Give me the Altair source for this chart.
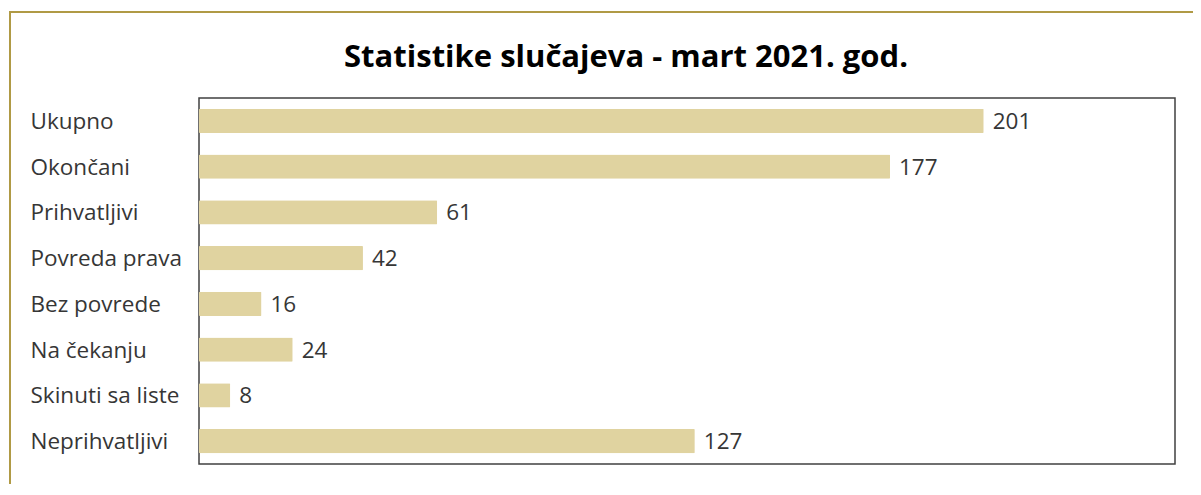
import altair as alt
import pandas as pd

categories = ["Ukupno", "Okončani", "Prihvatljivi", "Povreda prava", "Bez povrede",
              "Na čekanju", "Skinuti sa liste", "Neprihvatljivi"]
values = [201, 177, 61, 42, 16, 24, 8, 127]
title_text = "Statistike slučajeva - mart 2021. god."

df = pd.DataFrame({"kategorija": categories, "broj": values})
title_df = pd.DataFrame({"naslov": [title_text]})

W, H = 976, 366
FONT = "Open Sans"

x_scale = alt.Scale(domain=[0, 250], nice=False)
y_scale = alt.Scale(paddingInner=0.47, paddingOuter=0.235)

y_enc = alt.Y("kategorija:N", sort=categories, title=None, scale=y_scale,
              axis=alt.Axis(labelAlign="left", labelPadding=169, tickSize=0, ticks=False,
                            domain=False, labelFontSize=22.5, labelColor="#363636",
                            labelFont=FONT, labelOffset=1))
x_enc = alt.X("broj:Q", scale=x_scale, axis=None)

bars = alt.Chart(df).mark_bar(color="#E0D3A0", cornerRadius=1).encode(y=y_enc, x=x_enc)
labels = alt.Chart(df).mark_text(align="left", baseline="middle", dx=9, dy=1, fontSize=22.5,
                                 color="#363636", font=FONT).encode(
    y=alt.Y("kategorija:N", sort=categories, scale=y_scale),
    x=alt.X("broj:Q", scale=x_scale), text="broj:Q")

frame = alt.Chart(title_df).mark_rect(fill=None, stroke="#B09A45", strokeWidth=2, clip=False).encode(
    x=alt.value(-189), y=alt.value(-86), x2=alt.value(W + 60), y2=alt.value(H + 60))

title = alt.Chart(title_df).mark_text(font=FONT, fontSize=31, fontWeight="bold",
                                      color="#000000", align="center", baseline="alphabetic",
                                      clip=False).encode(
    text="naslov:N", x=alt.value(427), y=alt.value(-31))

chart = alt.layer(frame, bars, labels, title).properties(
    width=W, height=H,
    autosize=alt.AutoSizeParams(type="none"),
    padding={"left": 191, "top": 90, "right": 18, "bottom": 20},
).configure_view(stroke="#404040", strokeWidth=1.5)

chart.save("out.html", embed_options={"renderer": "svg", "actions": False})
